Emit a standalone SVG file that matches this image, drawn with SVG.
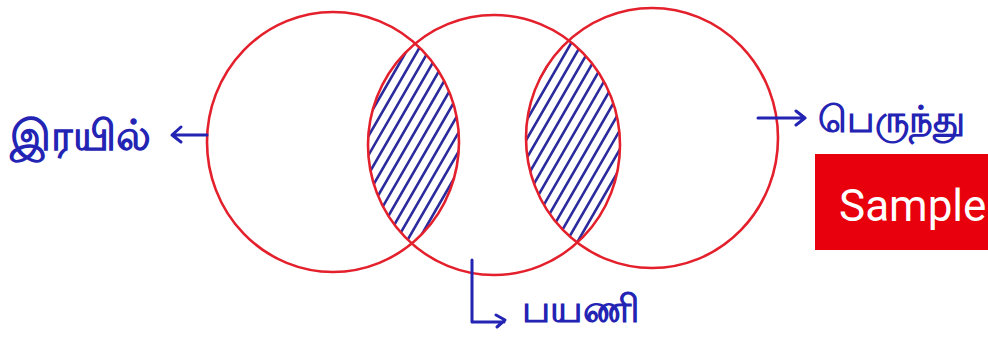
<svg xmlns="http://www.w3.org/2000/svg" width="988" height="338" viewBox="0 0 988 338">
<style>
.c{fill:none;stroke:#e3202c;stroke-width:2.6}
.h{fill:none;stroke:#2b2b9e;stroke-width:2.6;stroke-linecap:round}
.lbl{font-family:"Noto Sans","DejaVu Sans",sans-serif;fill:#2323b4;font-weight:bold}
.ar{fill:none;stroke:#2323b4;stroke-width:3;stroke-linecap:round;stroke-linejoin:round}
</style>
<defs>
<clipPath id="cA"><ellipse cx="333" cy="142" rx="126" ry="130"/></clipPath>
<clipPath id="cB"><ellipse cx="494" cy="145" rx="126" ry="130"/></clipPath>
<clipPath id="cC"><ellipse cx="652" cy="138" rx="126" ry="130"/></clipPath>
</defs>
<rect width="988" height="338" fill="#ffffff"/>
<g id="hatch-AB" clip-path="url(#cA)"><g clip-path="url(#cB)">
<path class="h" d="M220 260l150-260M231 260l150-260M242 260l150-260M253 260l150-260M264 260l150-260M275 260l150-260M286 260l150-260M297 260l150-260M308 260l150-260M319 260l150-260M330 260l150-260M341 260l150-260M352 260l150-260M363 260l150-260M374 260l150-260M385 260l150-260M396 260l150-260M407 260l150-260M418 260l150-260M429 260l150-260M440 260l150-260M451 260l150-260M462 260l150-260"/>
</g></g>
<g id="hatch-BC" clip-path="url(#cB)"><g clip-path="url(#cC)">
<path class="h" d="M380 260l150-260M391 260l150-260M402 260l150-260M413 260l150-260M424 260l150-260M435 260l150-260M446 260l150-260M457 260l150-260M468 260l150-260M479 260l150-260M490 260l150-260M501 260l150-260M512 260l150-260M523 260l150-260M534 260l150-260M545 260l150-260M556 260l150-260M567 260l150-260M578 260l150-260M589 260l150-260M600 260l150-260M611 260l150-260M622 260l150-260"/>
</g></g>
<g id="train"><ellipse class="c" cx="333" cy="142" rx="126" ry="130"/></g>
<g id="traveller"><ellipse class="c" cx="494" cy="145" rx="126" ry="130"/></g>
<g id="bus"><ellipse class="c" cx="652" cy="138" rx="126" ry="130"/></g>
<g id="connectors">
<path class="ar" d="M207 135 L172 135 M181 127 L172 135 L181 142"/>
<path class="ar" d="M758 118 L805 118 M796 111 L805 118 L796 125"/>
<path class="ar" d="M472 260 L472 322 L504 322 M496 315 L505 320 L497 327"/>
</g>
<g id="labels">
<text class="lbl" x="10" y="150" font-size="42">இரயில்</text>
<text class="lbl" x="818" y="132" font-size="37">பெருந்து</text>
<text class="lbl" x="522" y="322" font-size="38">பயணி</text>
</g>
<g id="sample">
<rect x="815" y="154" width="173" height="96" fill="#e8000c"/>
<text x="839" y="221" font-family="Roboto,'Liberation Sans',sans-serif" font-size="44" fill="#ffffff">Sample</text>
</g>
</svg>
